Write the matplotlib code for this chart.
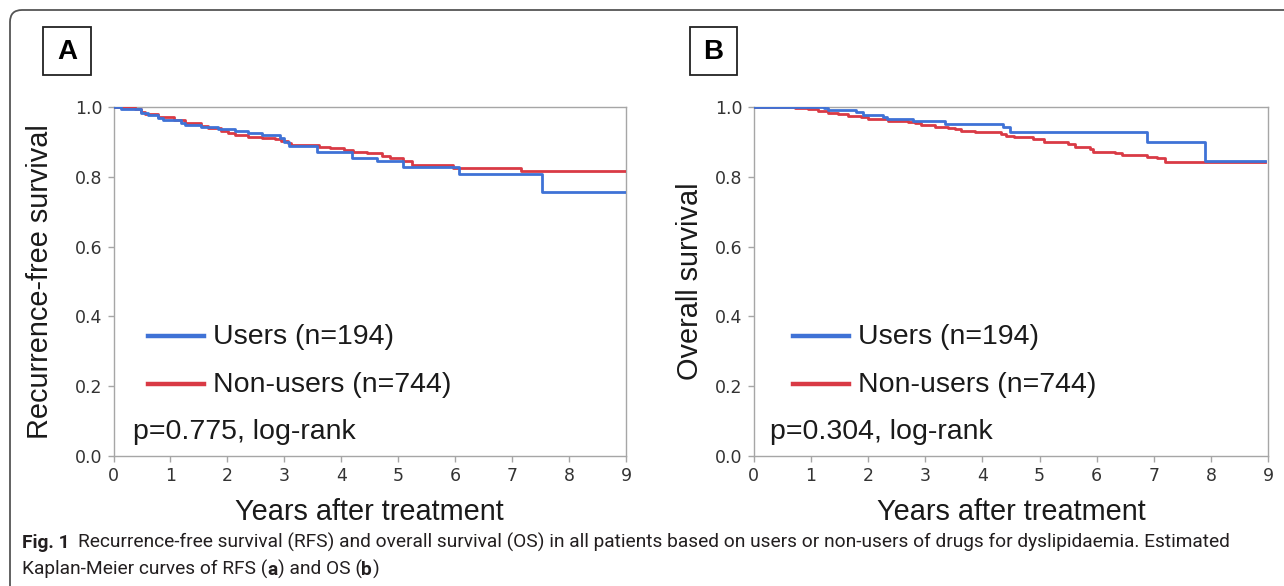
import matplotlib
matplotlib.use("Agg")
import matplotlib.pyplot as plt
from matplotlib.patches import FancyBboxPatch, Rectangle
from matplotlib import font_manager

# ---------------- data ----------------
years_ticks = [0, 1, 2, 3, 4, 5, 6, 7, 8, 9]
surv_ticks = [0.0, 0.2, 0.4, 0.6, 0.8, 1.0]
surv_ticklabels = ["0.0", "0.2", "0.4", "0.6", "0.8", "1.0"]

rfs_users_t = [0, 0.14, 0.49, 0.61, 0.78, 0.87, 1.19, 1.25, 1.54, 1.84, 2.13, 2.36, 2.60,
               2.92, 3.00, 3.09, 3.57, 4.18, 4.63, 5.08, 6.07, 7.52, 8.98]
rfs_users_s = [1.0, 0.994, 0.984, 0.977, 0.968, 0.963, 0.953, 0.948, 0.944, 0.936, 0.931, 0.925,
               0.920, 0.910, 0.900, 0.889, 0.870, 0.855, 0.845, 0.829, 0.808, 0.757, 0.757]

rfs_non_t = [0, 0.20, 0.37, 0.49, 0.55, 0.78, 1.07, 1.25, 1.54, 1.66, 1.89, 2.01, 2.13, 2.36,
             2.60, 2.83, 2.95, 3.06, 3.12, 3.60, 3.80, 4.04, 4.21, 4.45, 4.71, 4.86, 5.09, 5.24,
             5.97, 7.15, 9.0]
rfs_non_s = [1.0, 0.999, 0.993, 0.987, 0.980, 0.972, 0.963, 0.953, 0.946, 0.939, 0.932, 0.926,
             0.920, 0.915, 0.912, 0.908, 0.903, 0.896, 0.891, 0.885, 0.882, 0.877, 0.872, 0.867,
             0.861, 0.853, 0.845, 0.834, 0.825, 0.817, 0.817]

os_users_t = [0, 1.23, 1.30, 1.79, 1.91, 2.26, 2.34, 2.79, 3.34, 4.36, 4.49, 6.88, 7.89, 8.94]
os_users_s = [1.0, 0.998, 0.991, 0.985, 0.977, 0.970, 0.965, 0.960, 0.951, 0.943, 0.927, 0.899,
              0.846, 0.846]

os_non_t = [0, 0.25, 0.72, 0.95, 1.12, 1.30, 1.47, 1.65, 1.88, 2.00, 2.23, 2.35, 2.70, 2.82,
            2.93, 3.17, 3.40, 3.52, 3.63, 3.87, 4.33, 4.42, 4.55, 4.66, 4.89, 5.07, 5.50, 5.62,
            5.88, 5.94, 6.32, 6.44, 6.87, 7.05, 7.19, 8.94]
os_non_s = [1.0, 0.999, 0.996, 0.993, 0.988, 0.984, 0.980, 0.974, 0.972, 0.967, 0.965, 0.961,
            0.958, 0.953, 0.948, 0.944, 0.939, 0.936, 0.931, 0.927, 0.924, 0.917, 0.915, 0.913,
            0.907, 0.899, 0.894, 0.886, 0.879, 0.872, 0.867, 0.862, 0.858, 0.853, 0.843, 0.843]

panel_letters = ["A", "B"]
ylabels = ["Recurrence-free survival", "Overall survival"]
xlabel = "Years after treatment"
legend_labels = ["Users (n=194)", "Non-users (n=744)"]
pvals = ["p=0.775, log-rank", "p=0.304, log-rank"]
caption_bold = "Fig. 1"
caption_line1 = ("Recurrence-free survival (RFS) and overall survival (OS) in all patients based on "
                 "users or non-users of drugs for dyslipidaemia. Estimated")
caption_line2 = [("Kaplan-Meier curves of RFS (", False), ("a", True), (") and OS (", False),
                 ("b", True), (")", False)]

# ---------------- style ----------------
BLUE = "#3f72d6"
RED = "#d93a45"
SPINE = "#a6a6a6"
TXT = "#1a1a1a"
SANS = "Liberation Sans"
names = {f.name for f in font_manager.fontManager.ttflist}
CAPFONT = "Liberation Sans Narrow" if "Liberation Sans Narrow" in names else "Roboto"

W, H = 1284, 586
fig = plt.figure(figsize=(W / 100, H / 100), dpi=100)


def fx(x):
    return x / W


def fy(y):
    return 1 - y / H


# outer frame (display pixels)
frame = FancyBboxPatch((10, -30), 1320, 586 - 10 + 30, boxstyle="round,pad=0,rounding_size=12",
                       transform=None, fill=False, edgecolor="#555555", linewidth=1.3)
fig.patches.append(frame)

panels = [
    dict(left=113.5, right=626.0, users=(rfs_users_t, rfs_users_s), non=(rfs_non_t, rfs_non_s),
         box=(43, 27, 48, 48), ylab_x=40, leg_x0=148, p_x=133),
    dict(left=753.7, right=1268.3, users=(os_users_t, os_users_s), non=(os_non_t, os_non_s),
         box=(690, 27, 47, 48), ylab_x=690, leg_x0=793, p_x=770),
]
top, bottom = 107.0, 456.0

for i, p in enumerate(panels):
    ax = fig.add_axes([fx(p["left"]), fy(bottom), (p["right"] - p["left"]) / W, (bottom - top) / H])
    ax.step(p["non"][0], p["non"][1], where="post", color=RED, lw=2.0, zorder=3)
    ax.step(p["users"][0], p["users"][1], where="post", color=BLUE, lw=2.0, zorder=4)
    ax.set_xlim(0, 9)
    ax.set_ylim(0, 1.0)
    ax.set_xticks(years_ticks)
    ax.set_xticklabels([str(v) for v in years_ticks], fontsize=12.5, color="#333333",
                       family="DejaVu Sans")
    ax.set_yticks(surv_ticks)
    ax.set_yticklabels(surv_ticklabels, fontsize=12.5, color="#333333", family="DejaVu Sans")
    ax.tick_params(direction="out", length=4, width=1, color=SPINE, pad=4)
    for s in ax.spines.values():
        s.set_color(SPINE)
        s.set_linewidth(1.0)
    ax.patch.set_alpha(0)

    # axis labels
    fig.text(fx((p["left"] + p["right"]) / 2), fy(512), xlabel, ha="center", va="center",
             fontsize=20.8, family=SANS, color=TXT)
    fig.text(fx(p["ylab_x"]), fy((top + bottom) / 2), ylabels[i], ha="center", va="center",
             rotation=90, fontsize=20.8, family=SANS, color=TXT)

    # legend
    x0 = p["leg_x0"]
    for j, (col, lab) in enumerate([(BLUE, legend_labels[0]), (RED, legend_labels[1])]):
        yy = 336 + 48 * j
        fig.add_artist(plt.Line2D([fx(x0), fx(x0 + 56)], [fy(yy), fy(yy)], color=col, lw=3.2))
        fig.text(fx(x0 + 65), fy(yy + 1), lab, ha="left", va="center", fontsize=20.5,
                 family=SANS, color=TXT)
    fig.text(fx(p["p_x"]), fy(432), pvals[i], ha="left", va="center", fontsize=20.5,
             family=SANS, color=TXT)

    # panel letter box
    bx, by, bw, bh = p["box"]
    fig.add_artist(Rectangle((fx(bx), fy(by + bh)), bw / W, bh / H, transform=fig.transFigure,
                             fill=True, facecolor="white", edgecolor="#222222", lw=1.3))
    fig.text(fx(bx + bw / 2), fy(by + bh / 2 + 1), panel_letters[i], ha="center", va="center",
             fontsize=20, fontweight="bold", family=SANS, color="black")

# caption
CAPCOL = "#231f20"
renderer = fig.canvas.get_renderer()
t0 = fig.text(fx(22), fy(548), caption_bold, ha="left", va="baseline", fontsize=12.5,
              fontweight="bold", family=[CAPFONT, "DejaVu Sans"], color=CAPCOL)
bb = t0.get_window_extent(renderer)
t1 = fig.text((bb.x1 + 8) / W, fy(548), caption_line1, ha="left", va="baseline",
              fontsize=12.5, family=[CAPFONT, "DejaVu Sans"], color=CAPCOL)
bb1 = t1.get_window_extent(renderer)
target = 1222
scale = (target - (bb.x1 + 8)) / (bb1.x1 - (bb.x1 + 8))
fs = 12.5 * scale
t0.set_fontsize(fs)
bb = t0.get_window_extent(renderer)
t1.set_fontsize(fs)
t1.set_x((bb.x1 + 8) / W)

xcur = 22
for txt, bold in caption_line2:
    t = fig.text(xcur / W, fy(575), txt, ha="left", va="baseline", fontsize=fs,
                 fontweight="bold" if bold else "normal", family=[CAPFONT, "DejaVu Sans"],
                 color=CAPCOL)
    xcur = t.get_window_extent(renderer).x1

fig.savefig("out.png", dpi=100)
